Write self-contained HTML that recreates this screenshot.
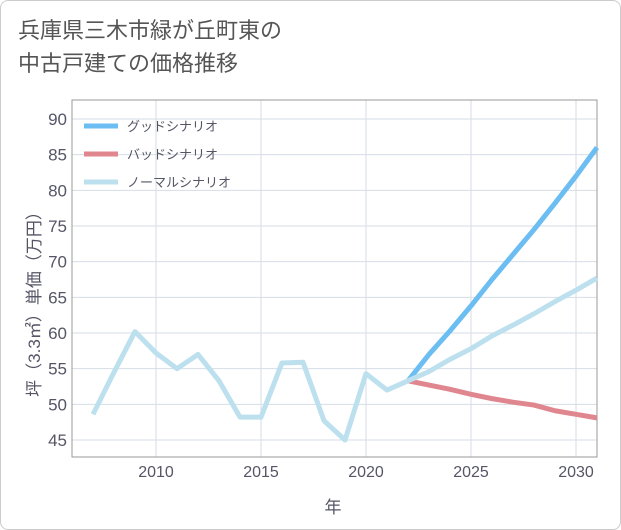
<!DOCTYPE html>
<html><head><meta charset="utf-8"><style>
body{margin:0;background:#fff;}
#wrap{position:relative;width:621px;height:530px;font-family:"Liberation Sans","Noto Sans CJK JP",sans-serif;}
#frame{position:absolute;left:0;top:0;width:619px;height:528px;border:1px solid #ccc;border-radius:8px;}
#title{position:absolute;left:18px;top:14px;font-size:22px;line-height:33px;color:#555;}
</style></head><body>
<div id="wrap">
<div id="frame"></div>
<div id="title">兵庫県三木市緑が丘町東の<br>中古戸建ての価格推移</div>
<svg id="chart" width="621" height="530" style="position:absolute;left:0;top:0"></svg>
</div>
<script>
const histYears=[2007,2008,2009,2010,2011,2012,2013,2014,2015,2016,2017,2018,2019,2020,2021,2022];
const histValues=[48.6,54.5,60.2,57.2,55.0,57.0,53.3,48.2,48.2,55.8,55.9,47.7,45.0,54.3,52.0,53.3];
const projYears=[2022,2023,2024,2025,2026,2027,2028,2029,2030,2031];
const goodValues=[53.3,57.0,60.3,63.8,67.5,71.0,74.5,78.2,82.0,86.0];
const badValues=[53.3,52.7,52.1,51.4,50.8,50.3,49.9,49.1,48.6,48.1];
const normalValues=[53.3,54.6,56.3,57.8,59.6,61.1,62.7,64.4,66.0,67.7];
const yTicks=[45,50,55,60,65,70,75,80,85,90];
const xTicks=[2010,2015,2020,2025,2030];
const legendLabels=["グッドシナリオ","バッドシナリオ","ノーマルシナリオ"];
const legendColors=["#6bbdf2","#e0868f","#bde0ee"];

const L=72,R=597,T=100,B=457;
const x=y=>L+(y-2006)*(R-L)/25;
const yS=v=>440-(v-45)*(440-119)/45;
const svg=document.getElementById('chart');
const NS='http://www.w3.org/2000/svg';
function mk(t,a){const e=document.createElementNS(NS,t);for(const k in a)e.setAttribute(k,a[k]);svg.appendChild(e);return e;}

const bg=mk('rect',{x:L,y:T,width:R-L,height:B-T,fill:'#fff',stroke:'#999','stroke-width':1});


yTicks.forEach(v=>{
  const g=mk('line',{x1:L,x2:R,y1:yS(v),y2:yS(v),stroke:'#d5dde6','stroke-width':1});
  
  
  const t=mk('text',{x:L-5,y:yS(v)+6,'text-anchor':'end','font-size':17,fill:'#556'});
  t.textContent=v;
  
  
});
xTicks.forEach(v=>{
  const g=mk('line',{x1:x(v),x2:x(v),y1:T,y2:B,stroke:'#d5dde6','stroke-width':1});
  
  
  const t=mk('text',{x:x(v),y:477,'text-anchor':'middle','font-size':16,fill:'#556'});
  t.textContent=v;
  
  
});
const border=mk('rect',{x:L,y:T,width:R-L,height:B-T,fill:'none',stroke:'#999','stroke-width':1});



function line(xs,vs,c,name){
  const p=mk('polyline',{points:xs.map((yr,i)=>x(yr)+','+yS(vs[i])).join(' '),fill:'none',stroke:c,'stroke-width':5,'stroke-linejoin':'round','stroke-linecap':'butt'});
  
  
}
line(projYears,badValues,legendColors[1],'bad-scenario-line');
line(projYears,goodValues,legendColors[0],'good-scenario-line');
line(projYears,normalValues,legendColors[2],'normal-scenario-line');
line(histYears,histValues,legendColors[2],'historical-line');

legendLabels.forEach((lab,i)=>{
  const yy=126+i*28;
  const l=mk('line',{x1:84,x2:118,y1:yy,y2:yy,stroke:legendColors[i],'stroke-width':5});
  
  
  const t=mk('text',{x:127,y:yy+5,'font-size':13,fill:'#556'});
  t.textContent=lab;
  
  
});
const xt=mk('text',{x:333,y:513,'text-anchor':'middle','font-size':17,fill:'#556'});
xt.textContent='年';


const yt=mk('text',{x:0,y:0,'text-anchor':'middle','font-size':17,fill:'#556',transform:'translate(40,300) rotate(-90)'});
yt.textContent='坪（3.3㎡）単価（万円）';


</script>
</body></html>
